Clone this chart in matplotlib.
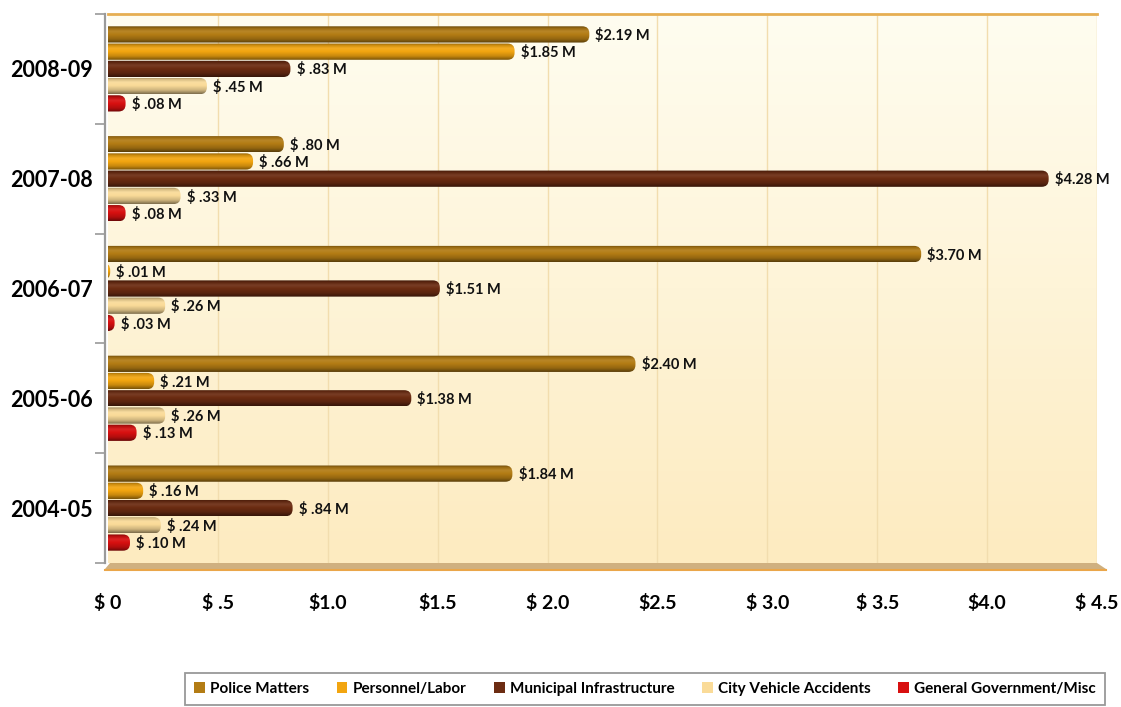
import numpy as np
import matplotlib
matplotlib.use("Agg")
import matplotlib.pyplot as plt
from matplotlib.patches import FancyBboxPatch, Rectangle, Polygon
from matplotlib.colors import to_rgb

# ---------------- data ----------------
categories = ['2004-05', '2005-06', '2006-07', '2007-08', '2008-09']
police = [1.84, 2.40, 3.70, 0.80, 2.19]
personnel = [0.16, 0.21, 0.01, 0.66, 1.85]
municipal = [0.84, 1.38, 1.51, 4.28, 0.83]
vehicle = [0.24, 0.26, 0.26, 0.33, 0.45]
general = [0.10, 0.13, 0.03, 0.08, 0.08]
series_names = ['Police Matters', 'Personnel/Labor', 'Municipal Infrastructure',
                'City Vehicle Accidents', 'General Government/Misc']
xtick_values = [0, 0.5, 1.0, 1.5, 2.0, 2.5, 3.0, 3.5, 4.0, 4.5]
xtick_labels = ['$ 0', '$ .5', '$1.0', '$1.5', '$ 2.0', '$2.5', '$ 3.0', '$ 3.5', '$4.0', '$ 4.5']

series = [police, personnel, municipal, vehicle, general]
colors = ['#B37C14', '#F2A510', '#6C2C12', '#FADB98', '#D81010']

FONT = 'Lato'
W, H = 1121, 707
fig = plt.figure(figsize=(W / 100, H / 100), dpi=100)
fig.patch.set_facecolor('white')

L, R, T, B = 108, 1097, 14, 563
ax = fig.add_axes([L / W, 1 - B / H, (R - L) / W, (B - T) / H])
ax.set_xlim(0, 4.5)
ax.set_ylim(-0.5, 4.5)

# background gradient (back wall)
top_c = np.array(to_rgb('#FFFDF0'))
bot_c = np.array(to_rgb('#FDEBC0'))
t = np.linspace(0, 1, 256)[:, None, None]
bg = top_c * (1 - t) + bot_c * t
ax.imshow(bg, extent=(0, 1, 0, 1), transform=ax.transAxes, aspect='auto', zorder=0)
ax.set_xlim(0, 4.5)
ax.set_ylim(-0.5, 4.5)

# grid lines
for xv in xtick_values[1:-1]:
    ax.axvline(xv, color='#F2DDAE', lw=1.0, zorder=1)
ax.axvline(4.5, color='#EED8AA', lw=1.0, zorder=1)
ax.axhline(4.5, color='#E6AE52', lw=2.0, zorder=2, clip_on=False)


def gradient_for(base):
    b = np.array(to_rgb(base))
    white = np.ones(3)
    stops = [(0.0, b * 0.6), (0.12, b * 0.85), (0.3, b * 0.92 + white * 0.08),
             (0.5, b), (0.78, b * 0.82), (1.0, b * 0.5)]
    n = 40
    ys = np.linspace(0, 1, n)
    pos = [s[0] for s in stops]
    arr = np.zeros((n, 1, 3))
    for k in range(3):
        arr[:, 0, k] = np.interp(ys, pos, [s[1][k] for s in stops])
    return np.clip(arr, 0, 1)


step = 0.157
thick = 0.148
offsets = [2 * step, step, 0, -step, -2 * step]
asp = (5.0 / (B - T)) / (4.5 / (R - L))
rr = 0.032

for j, vals in enumerate(series):
    grad = gradient_for(colors[j])
    for i, v in enumerate(vals):
        yc = i + offsets[j]
        y0 = yc - thick / 2
        x0 = -0.1
        patch = FancyBboxPatch((x0, y0), v - x0, thick,
                               boxstyle=f"round,pad=0,rounding_size={rr}",
                               mutation_aspect=asp, facecolor='none',
                               edgecolor='none', lw=0, transform=ax.transData, zorder=3)
        ax.add_patch(patch)
        im = ax.imshow(grad, extent=(x0, v, y0, y0 + thick), aspect='auto',
                       origin='upper', zorder=3, interpolation='bilinear')
        im.set_clip_path(patch)
        if v < 1:
            lab = '$ ' + f'{v:.2f}'[1:] + ' M'
        else:
            lab = '$' + f'{v:.2f}' + ' M'
        ax.text(v + 0.028, yc - 0.01, lab, va='center', ha='left', fontsize=10.5,
                fontweight='bold', family=FONT, color='#111111', zorder=5)

ax.set_xlim(0, 4.5)
ax.set_ylim(-0.5, 4.5)

# axes decoration
for s in ['top', 'right', 'bottom']:
    ax.spines[s].set_visible(False)
ax.spines['left'].set_color('#9A9A9A')
ax.spines['left'].set_linewidth(1.6)
ax.spines['left'].set_position(('outward', 2))

ax.set_yticks(np.arange(-0.5, 4.6, 1.0))
ax.set_yticklabels([])
ax.tick_params(axis='y', which='major', length=7, width=1.2, color='#9A9A9A', direction='out')
ax.set_yticks(range(len(categories)), minor=True)
ax.set_yticklabels(categories, minor=True, fontsize=15.5, fontweight='bold', family=FONT)
ax.tick_params(axis='y', which='minor', length=0, pad=9)

ax.set_xticks(xtick_values)
ax.set_xticklabels(xtick_labels, fontsize=14, fontweight='bold', family=FONT)
ax.tick_params(axis='x', length=0, pad=22)

# floor strip
floor = Polygon([(110 / W, 1 - 563 / H), (1097 / W, 1 - 563 / H),
                 (1106 / W, 1 - 569 / H), (105 / W, 1 - 569 / H)],
                closed=True, transform=fig.transFigure, facecolor='#CFB080',
                edgecolor='none', zorder=1)
fig.patches.append(floor)
fig.add_artist(plt.Line2D([105 / W, 1106 / W], [1 - 569.5 / H, 1 - 569.5 / H],
                          transform=fig.transFigure, color='#EAA64A', lw=1.5))

# legend
handles = [Rectangle((0, 0), 1, 1, facecolor=c, edgecolor='none') for c in colors]
leg = fig.legend(handles, series_names, loc='center',
                 bbox_to_anchor=(645 / W, 1 - 689 / H), ncol=5, frameon=True,
                 fancybox=False, edgecolor='#7F7F7F', handlelength=0.7,
                 handleheight=0.7, handletextpad=0.35, columnspacing=1.8,
                 borderpad=0.6,
                 prop={'family': FONT, 'weight': 'bold', 'size': 11})
leg.get_frame().set_linewidth(1.3)

fig.savefig('out.png', dpi=100)
